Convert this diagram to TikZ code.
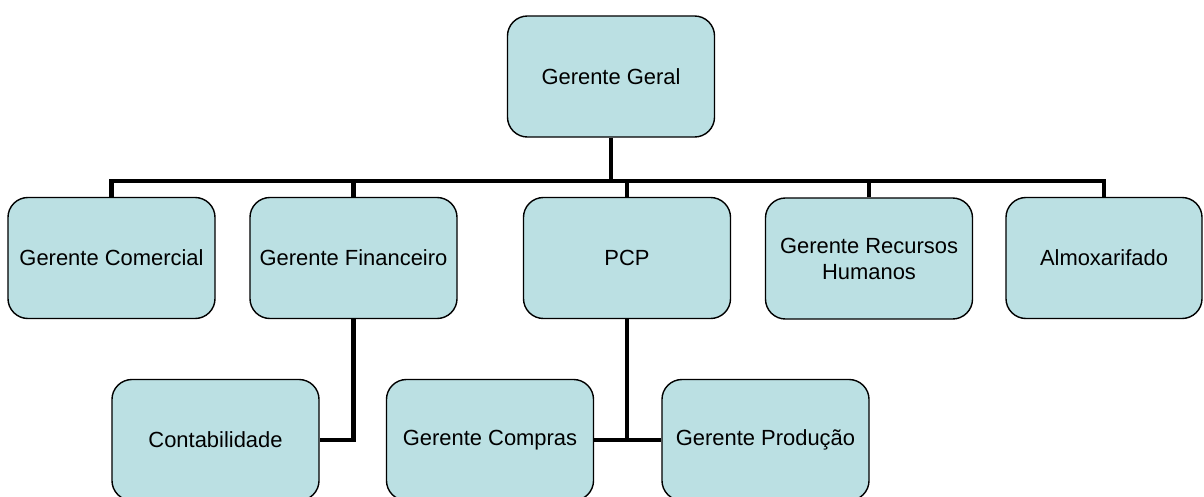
\documentclass[tikz,border=0pt]{standalone}
\usepackage{fontspec}
\setmainfont{Liberation Sans}
\definecolor{boxfill}{RGB}{187,224,227}

\begin{document}
\begin{tikzpicture}[x=0.025cm,y=-0.025cm]
    \useasboundingbox (0,0) rectangle (1204,496);

    \begin{scope}[every node/.style={rectangle,rounded corners=0.5cm,draw=black,line width=1pt,
        fill=boxfill,minimum width=5.175cm,minimum height=3.025cm,align=center,
        font=\fontsize{15.6}{18.5}\selectfont}]
      \node (geral) at (611,76.5) {Gerente Geral};
      \node (comercial) at (111.5,258) {Gerente Comercial};
      \node (financeiro) at (353.5,258) {Gerente Financeiro};
      \node (pcp) at (627,258) {PCP};
      \node (rh) at (869,258.5) {Gerente Recursos\\Humanos};
      \node[minimum width=4.9cm] (almox) at (1104,258) {Almoxarifado};
      \node (contab) at (215.5,440) {Contabilidade};
      \node (compras) at (490,440) {Gerente Compras};
      \node (producao) at (765.5,440) {Gerente Produção};
    \end{scope}

    \begin{scope}[line width=0.11cm]
      \coordinate (bus) at (611,181);
      \draw (geral.south) -- (bus);
      \draw (comercial.north) |- (bus) -| (almox.north);
      \draw (financeiro.north) -- (financeiro.north |- bus);
      \draw (pcp.north) -- (pcp.north |- bus);
      \draw (rh.north) -- (rh.north |- bus);
      % lower level
      \draw (financeiro.south) |- (contab.east);
      \draw (pcp.south) -- (pcp.south |- compras.east);
      \draw (compras.east) -- (producao.west);
    \end{scope}
\end{tikzpicture}
\end{document}
